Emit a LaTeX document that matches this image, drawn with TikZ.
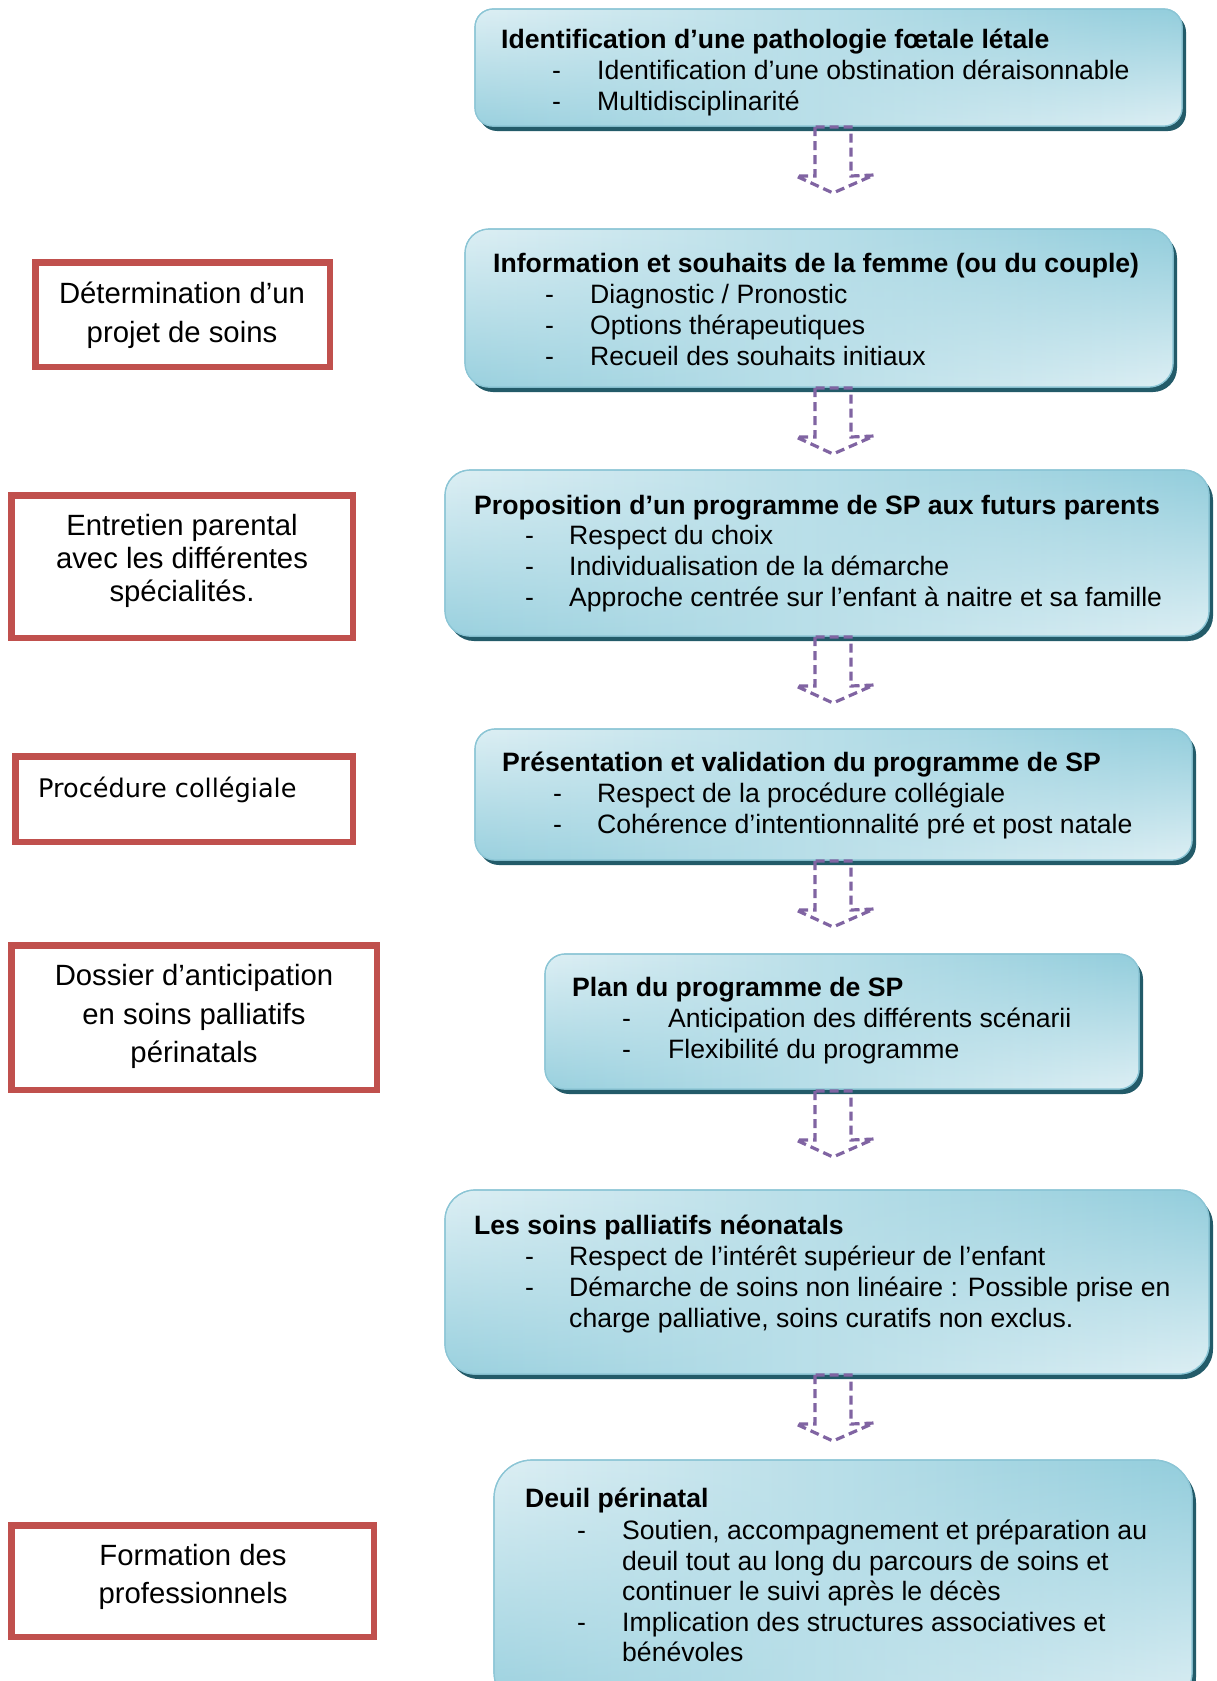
\documentclass[tikz,border=0pt]{standalone}
\usepackage{fontspec}
\setmainfont{Liberation Sans}
\newfontfamily\procfont{DejaVu Sans}
\usetikzlibrary{shadows,fadings}
\definecolor{bdark}{HTML}{92CDDC}
\definecolor{blight}{HTML}{DDEFF4}
\definecolor{bedge}{HTML}{8BC5D5}
\definecolor{bshadow}{HTML}{235B69}
\definecolor{redbox}{HTML}{C0504D}
\definecolor{arrowpurple}{HTML}{8064A2}
\tikzset{
 bluebox/.style={rectangle, draw=bedge, line width=1.2pt, left color=blight, right color=bdark,
   drop shadow={shadow xshift=4pt, shadow yshift=-5pt, fill=bshadow, opacity=1},
   postaction={left color=bdark!90!blight, right color=blight, path fading=north},
   postaction={draw=bedge, line width=1.2pt},
   inner sep=0pt, outer sep=0pt, anchor=north west},
 redframe/.style={rectangle, draw=redbox, line width=6.5pt, fill=white, inner sep=0pt, outer sep=0pt, anchor=north west},
 ttl/.style={anchor=base west, inner sep=0pt, font=\fontsize{26.6}{31}\selectfont\bfseries},
 itm/.style={anchor=base west, inner sep=0pt, font=\fontsize{26.6}{31}\selectfont},
 rtxt/.style={anchor=base, inner sep=0pt, font=\fontsize{29.3}{35}\selectfont},
 darrowline/.style={draw=arrowpurple, line width=3.2pt, dash pattern=on 9pt off 5pt, line join=miter}
}
\begin{document}
\begin{tikzpicture}[x=1pt,y=-1pt]
\useasboundingbox (0,0) rectangle (1216,1681);
\clip (0,0) rectangle (1216,1681);

% ---------- blue boxes ----------
\node[bluebox, minimum width=707pt, minimum height=117pt, rounded corners=18pt] (b1) at (475,9) {};
\node[bluebox, minimum width=708pt, minimum height=158pt, rounded corners=24pt] (b2) at (465,229) {};
\node[bluebox, minimum width=764pt, minimum height=166pt, rounded corners=25pt] (b3) at (445,470) {};
\node[bluebox, minimum width=717pt, minimum height=131pt, rounded corners=20pt] (b4) at (475,729) {};
\node[bluebox, minimum width=594pt, minimum height=135pt, rounded corners=20pt] (b5) at (545,954) {};
\node[bluebox, minimum width=764pt, minimum height=184pt, rounded corners=30pt] (b6) at (445,1190) {};
\node[bluebox, minimum width=698pt, minimum height=250pt, rounded corners=38pt] (b7) at (494,1460) {};

% ---------- arrows ----------
\coordinate (a1) at (833,127);
\coordinate (a2) at (833,388);
\coordinate (a3) at (833,637);
\coordinate (a4) at (833,861);
\coordinate (a5) at (833,1091);
\coordinate (a6) at (833,1375);
\foreach \a in {a1,a2,a3,a4,a5,a6} {
  \draw[darrowline, shift={(\a)}] (-18,0) -- (-18,49) -- (-37,49) -- (0,66) -- (41,48) -- (18,49) -- (18,0) -- cycle;
}

% ---------- box texts ----------
\node[ttl] (t1) at (501,48) {Identification d’une pathologie fœtale létale};
\node[itm] (t1d1) at (552,79) {-};
\node[itm] (t1l1) at (597,79) {Identification d’une obstination déraisonnable};
\node[itm] (t1d2) at (552,110) {-};
\node[itm] (t1l2) at (597,110) {Multidisciplinarité};

\node[ttl] (t2) at (493,272) {Information et souhaits de la femme (ou du couple)};
\node[itm] (t2d1) at (545,303) {-};
\node[itm] (t2l1) at (590,303) {Diagnostic / Pronostic};
\node[itm] (t2d2) at (545,334) {-};
\node[itm] (t2l2) at (590,334) {Options thérapeutiques};
\node[itm] (t2d3) at (545,365) {-};
\node[itm] (t2l3) at (590,365) {Recueil des souhaits initiaux};

\node[ttl] (t3) at (474,514) {Proposition d’un programme de SP aux futurs parents};
\node[itm] (t3d1) at (525,544) {-};
\node[itm] (t3l1) at (569,544) {Respect du choix};
\node[itm] (t3d2) at (525,575) {-};
\node[itm] (t3l2) at (569,575) {Individualisation de la démarche};
\node[itm] (t3d3) at (525,606) {-};
\node[itm] (t3l3) at (569,606) {Approche centrée sur l’enfant à naitre et sa famille};

\node[ttl] (t4) at (502,771) {Présentation et validation du programme de SP};
\node[itm] (t4d1) at (553,802) {-};
\node[itm] (t4l1) at (597,802) {Respect de la procédure collégiale};
\node[itm] (t4d2) at (553,833) {-};
\node[itm] (t4l2) at (597,833) {Cohérence d’intentionnalité pré et post natale};

\node[ttl] (t5) at (572,996) {Plan du programme de SP};
\node[itm] (t5d1) at (622,1027) {-};
\node[itm] (t5l1) at (668,1027) {Anticipation des différents scénarii};
\node[itm] (t5d2) at (622,1058) {-};
\node[itm] (t5l2) at (668,1058) {Flexibilité du programme};

\node[ttl] (t6) at (474,1234) {Les soins palliatifs néonatals};
\node[itm] (t6d1) at (525,1265) {-};
\node[itm] (t6l1) at (569,1265) {Respect de l’intérêt supérieur de l’enfant};
\node[itm] (t6d2) at (525,1296) {-};
\node[itm] (t6l2) at (569,1296) {Démarche de soins non linéaire : Possible prise en};
\node[itm] (t6l3) at (569,1327) {charge palliative, soins curatifs non exclus.};

\node[ttl] (t7) at (525,1507) {Deuil périnatal};
\node[itm] (t7d1) at (577,1539) {-};
\node[itm] (t7l1) at (622,1539) {Soutien, accompagnement et préparation au};
\node[itm] (t7l2) at (622,1570) {deuil tout au long du parcours de soins et};
\node[itm] (t7l3) at (622,1600) {continuer le suivi après le décès};
\node[itm] (t7d2) at (577,1631) {-};
\node[itm] (t7l4) at (622,1631) {Implication des structures associatives et};
\node[itm] (t7l5) at (622,1661) {bénévoles};

% ---------- red frames ----------
\node[redframe, minimum width=294.5pt, minimum height=104.5pt] (r1) at (35.25,262.25) {};
\node[redframe, minimum width=341.5pt, minimum height=142.5pt] (r2) at (11.25,495.25) {};
\node[redframe, minimum width=337.5pt, minimum height=85.5pt] (r3) at (15.25,756.25) {};
\node[redframe, minimum width=365.5pt, minimum height=144.5pt] (r4) at (11.25,945.25) {};
\node[redframe, minimum width=362.5pt, minimum height=111.5pt] (r5) at (11.25,1525.25) {};

\node[rtxt] (r1a) at (182,303) {Détermination d’un};
\node[rtxt] (r1b) at (182,342) {projet de soins};
\node[rtxt] (r2a) at (182,535) {Entretien parental};
\node[rtxt] (r2b) at (182,568) {avec les différentes};
\node[rtxt] (r2c) at (182,601) {spécialités.};
\node[anchor=base west, inner sep=0pt, font=\procfont\fontsize{25.6}{31}\selectfont] (r3a) at (38,797) {Procédure collégiale};
\node[rtxt] (r4a) at (194,985) {Dossier d’anticipation};
\node[rtxt] (r4b) at (194,1024) {en soins palliatifs};
\node[rtxt] (r4c) at (194,1062) {périnatals};
\node[rtxt] (r5a) at (193,1565) {Formation des};
\node[rtxt] (r5b) at (193,1603) {professionnels};
\end{tikzpicture}
\end{document}
